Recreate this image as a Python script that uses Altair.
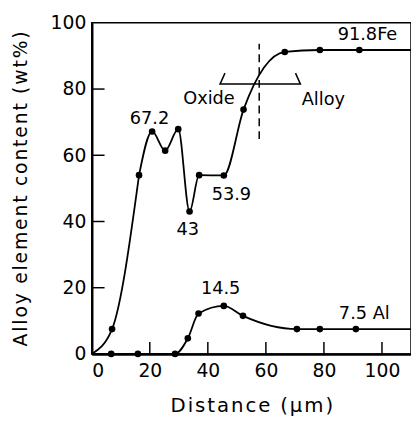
import altair as alt
import pandas as pd

# Fe profile (first and last entries are curve ends without markers)
fe_x = [0, 7, 16.3, 20.8, 25.3, 29.8, 33.7, 37, 45.5, 52.3, 66.5, 78.6, 92.2, 110]
fe_y = [0, 7.5, 54, 67.2, 61.4, 67.9, 43, 54, 53.9, 73.8, 91.2, 91.8, 91.8, 91.8]
fe_mark = [False] + [True] * 12 + [False]
fe_break = 2  # curve has a kink at this point

# Al profile
al_x = [0, 6.7, 15.9, 28.7, 33.1, 36.8, 45.5, 52.1, 70.7, 78.6, 91, 110]
al_y = [0, 0, 0, 0, 4.7, 12.2, 14.5, 11.5, 7.5, 7.5, 7.5, 7.5]
al_mark = [False] + [True] * 10 + [False]

# Text annotations
ann_text = ["67.2", "43", "53.9", "91.8Fe", "14.5", "7.5 Al", "Oxide", "Alloy"]
ann_x = [19.9, 33.1, 48.1, 95, 44.4, 93.9, 40.4, 79.8]
ann_y = [71.0, 37.5, 48.0, 96.4, 19.6, 11.9, 77.0, 76.8]

# Oxide/alloy boundary
boundary_x = [57.7]
boundary_y = [64.9]
boundary_y2 = [93.7]
bracket_x = [45.9, 44.2, 71.9, 70.2]
bracket_y = [84.8, 81.5, 81.5, 84.8]

# Axis ticks
x_ticks = [0, 20, 40, 60, 80, 100]
y_ticks = [0, 20, 40, 60, 80, 100]
x_inner_ticks = [20, 40, 60, 80, 100]
y_inner_ticks = [20, 40, 60, 80]

x_title = "Distance (μm)"
y_title = "Alloy element content (wt%)"


def spaced(s, gap="\u2002"):
    """Letter-spaced title text (hair spaces between letters, wider spaces between words)."""
    words = s.split(" ")
    return gap.join("\u200a".join(w) for w in words)


FONT = "DejaVu Sans"
W, H = 324, 336

fe = pd.DataFrame({"x": fe_x, "y": fe_y, "m": fe_mark, "i": range(len(fe_x))})
fe_lines = pd.concat([
    fe.iloc[: fe_break + 1].assign(seg=1),
    fe.iloc[fe_break:].assign(seg=2),
])
al = pd.DataFrame({"x": al_x, "y": al_y, "m": al_mark, "i": range(len(al_x))}).assign(seg=1)
ann = pd.DataFrame({"t": ann_text, "x": ann_x, "y": ann_y})
bnd = pd.DataFrame({"x": boundary_x, "y": boundary_y, "y2": boundary_y2})
brk = pd.DataFrame({"x": bracket_x, "y": bracket_y, "i": range(len(bracket_x))})
xt = pd.DataFrame({"x": x_inner_ticks})
yt = pd.DataFrame({"y": y_inner_ticks})

xs = alt.Scale(domain=[0, 110], nice=False, zero=False)
ys = alt.Scale(domain=[0, 100], nice=False)

X = alt.X("x:Q", scale=xs, title=spaced(x_title),
          axis=alt.Axis(values=x_ticks, ticks=False, grid=False, domainWidth=2.5,
                        domainColor="black", labelFont=FONT, labelFontSize=19,
                        labelColor="black", labelPadding=8, titleFont=FONT,
                        titleFontSize=20, titleFontWeight="normal", titleColor="black",
                        titlePadding=15))
Y = alt.Y("y:Q", scale=ys, title=spaced(y_title),
          axis=alt.Axis(values=y_ticks, ticks=False, grid=False, domainWidth=2.5,
                        domainColor="black", labelFont=FONT, labelFontSize=19,
                        labelColor="black", labelPadding=6, titleFont=FONT,
                        titleFontSize=19, titleFontWeight="normal", titleColor="black",
                        titlePadding=20))


def line(df):
    return alt.Chart(df).mark_line(color="black", strokeWidth=1.8, interpolate="monotone").encode(
        x=X, y=Y, order="i:Q", detail="seg:N")


def pts(df):
    return alt.Chart(df).transform_filter("datum.m").mark_circle(
        color="black", opacity=1, size=45).encode(x="x:Q", y="y:Q")


texts = alt.Chart(ann).mark_text(font=FONT, fontSize=18, color="black").encode(
    x="x:Q", y="y:Q", text="t:N")

dash = alt.Chart(bnd).mark_rule(color="black", strokeWidth=1.5, strokeDash=[8, 5]).encode(
    x="x:Q", y="y:Q", y2="y2:Q")

bracket = alt.Chart(brk).mark_line(color="black", strokeWidth=1.5).encode(
    x="x:Q", y="y:Q", order="i:Q")

xtick = alt.Chart(xt).mark_rule(color="black", strokeWidth=1.5).encode(
    x="x:Q", y=alt.value(H), y2=alt.value(H - 12))
ytick = alt.Chart(yt).mark_rule(color="black", strokeWidth=1.5).encode(
    y="y:Q", x=alt.value(0), x2=alt.value(13))

chart = alt.layer(
    line(fe_lines), line(al), pts(fe), pts(al), texts, dash, bracket, xtick, ytick
).properties(
    width=W, height=H,
    autosize=alt.AutoSizeParams(type="none"),
    padding={"left": 85, "top": 12, "right": 0, "bottom": 65},
).configure_view(stroke="black", strokeWidth=1.5)

chart.save("out.html", embed_options={"renderer": "svg", "actions": False})
